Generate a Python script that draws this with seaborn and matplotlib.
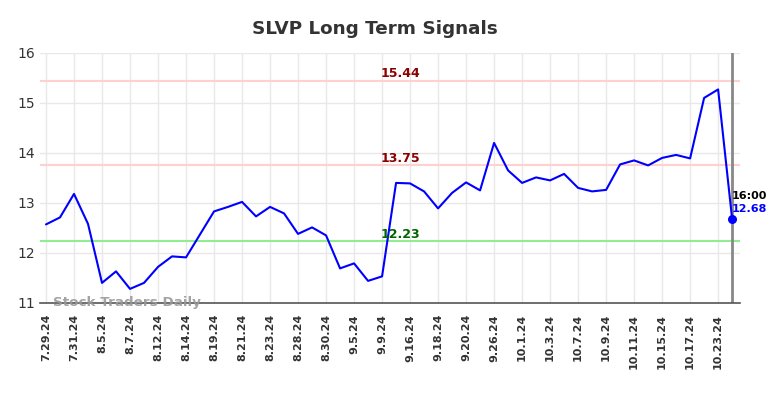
import numpy as np
import pandas as pd
import seaborn as sns
import matplotlib.pyplot as plt

# trading dates (labels shown every other one)
dates = ['7.29.24', '7.30.24', '7.31.24', '8.2.24', '8.5.24', '8.6.24', '8.7.24', '8.9.24',
         '8.12.24', '8.13.24', '8.14.24', '8.16.24', '8.19.24', '8.20.24', '8.21.24', '8.22.24',
         '8.23.24', '8.27.24', '8.28.24', '8.29.24', '8.30.24', '9.4.24', '9.5.24', '9.6.24',
         '9.9.24', '9.13.24', '9.16.24', '9.17.24', '9.18.24', '9.19.24', '9.20.24', '9.25.24',
         '9.26.24', '9.30.24', '10.1.24', '10.2.24', '10.3.24', '10.4.24', '10.7.24', '10.8.24',
         '10.9.24', '10.10.24', '10.11.24', '10.14.24', '10.15.24', '10.16.24', '10.17.24',
         '10.22.24', '10.23.24', '10.24.24']
prices = [12.57, 12.71, 13.18, 12.58, 11.40, 11.63, 11.28, 11.40, 11.72, 11.93,
          11.91, 12.37, 12.83, 12.92, 13.02, 12.73, 12.92, 12.79, 12.38, 12.51,
          12.35, 11.69, 11.79, 11.44, 11.53, 13.40, 13.39, 13.23, 12.89, 13.20,
          13.41, 13.25, 14.20, 13.65, 13.40, 13.51, 13.45, 13.58, 13.30, 13.23,
          13.26, 13.77, 13.85, 13.75, 13.90, 13.96, 13.89, 15.10, 15.27, 12.68]
resistance = [15.44, 13.75]
support = [12.23]
last_time = '16:00'

df = pd.DataFrame({'idx': np.arange(len(prices)), 'price': prices})

sns.set_style('whitegrid')
fig = plt.figure(figsize=(7.84, 3.98), dpi=100)
ax = fig.add_axes([0.051, 0.239, 0.893, 0.628])

for lvl in resistance:
    ax.axhline(lvl, color='#ffd0d0', lw=1.5, zorder=1)
for lvl in support:
    ax.axhline(lvl, color='#90ee90', lw=1.5, zorder=1)

sns.lineplot(data=df, x='idx', y='price', color='#0000ff', lw=1.5, ax=ax, zorder=3)

n = len(prices)
ax.axvline(n - 1, color='#888888', lw=2, zorder=2)
ax.scatter([n - 1], [prices[-1]], color='#0000ff', s=30, zorder=4)

mid = 25.3
for lvl in resistance:
    ax.text(mid, lvl + 0.01, f'{lvl:.2f}', color='#8b0000', fontsize=9,
            fontweight='bold', ha='center', va='bottom')
for lvl in support:
    ax.text(mid, lvl + 0.01, f'{lvl:.2f}', color='#006400', fontsize=9,
            fontweight='bold', ha='center', va='bottom')

ax.text(n - 1, prices[-1] + 0.36, last_time, color='black', fontsize=8,
        fontweight='bold', ha='left', va='bottom')
ax.text(n - 1, prices[-1] + 0.1, f'{prices[-1]:.2f}', color='#0000ff', fontsize=8,
        fontweight='bold', ha='left', va='bottom')

ax.text(0.5, 11.0, 'Stock Traders Daily', color='#999999', fontsize=9.7,
        fontweight='bold', ha='left', va='center', alpha=0.9)

ax.set_xlim(-0.43, n - 1 + 0.57)
ax.set_ylim(11, 16)
ax.set_yticks([11, 12, 13, 14, 15, 16])
ax.set_xticks(np.arange(0, n - 1, 2))
ax.set_xticklabels(dates[0:n - 1:2], rotation=90, fontsize=8, fontweight='bold', color='#333333')
ax.tick_params(axis='y', labelsize=10, colors='#333333', length=0)
ax.tick_params(axis='x', length=0, pad=8)
ax.set_xlabel('')
ax.set_ylabel('')
ax.grid(color='#e8e8e8', lw=1)
for s in ['left', 'right', 'top']:
    ax.spines[s].set_visible(False)
ax.spines['bottom'].set_color('#555555')
ax.spines['bottom'].set_linewidth(1.2)

fig.suptitle('SLVP Long Term Signals', x=0.478, y=0.95, fontsize=13.2,
             fontweight='bold', color='#333333')

fig.savefig('out.png', dpi=100)
